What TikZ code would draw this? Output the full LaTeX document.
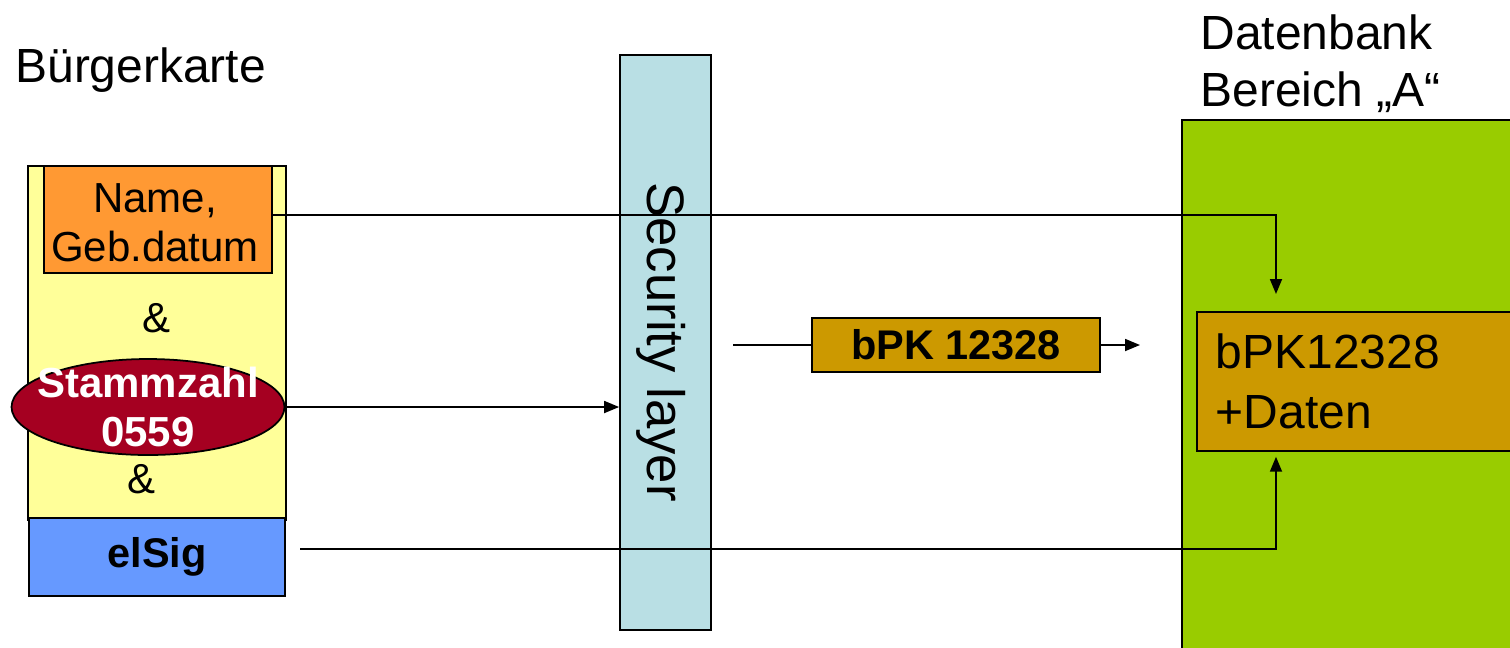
\documentclass[tikz,border=0pt]{standalone}
\usepackage{fontspec}
\setmainfont{Liberation Sans}
\usetikzlibrary{arrows.meta,positioning,shapes.geometric,calc}
\definecolor{cardyellow}{HTML}{FFFF99}
\definecolor{nameorange}{HTML}{FF9933}
\definecolor{sigblue}{HTML}{6699FF}
\definecolor{stammred}{HTML}{A50021}
\definecolor{layerblue}{HTML}{B9DFE4}
\definecolor{bpkgold}{HTML}{CC9900}
\definecolor{dbgreen}{HTML}{99CC00}
\tikzset{
  box/.style={draw=black, line width=1pt, fill=#1, inner sep=0pt, align=center},
  txt/.style={font=\fontsize{23.9}{27.8}\selectfont, inner sep=0pt, align=center},
  txtb/.style={font=\fontsize{23.6}{27.8}\selectfont\bfseries, inner sep=0pt,
               align=center},
  head/.style={font=\fontsize{27.3}{32.4}\selectfont, inner sep=0pt, align=left},
  flow/.style={-{Triangle[length=3mm,width=2.4mm]}, line width=1pt},
  wire/.style={line width=1pt},
}

\begin{document}
\begin{tikzpicture}[x=0.02cm, y=-0.02cm]
\useasboundingbox (0,0) rectangle (1510,647);
\clip (0,0) rectangle (1510,647);

% citizen card
\node[head, anchor=base west] (cardtitle) at (15,82) {Bürgerkarte};
\node[box=cardyellow, minimum width=5.16cm, minimum height=7.08cm] (card) at (157,343) {};
\node[box=nameorange, txt, minimum width=4.56cm, minimum height=2.14cm] (name)
  at (158,219.5) {};
\node[txt] (nametext) at (155,223) {Name,\\Geb.datum};
\node[txt] (amp1) at (157,318) {\&};
\node[box=stammred, ellipse, minimum width=5.46cm, minimum height=1.92cm] (stamm)
  at (148,407) {};
\node[txtb, font=\fontsize{23.9}{27.8}\selectfont\bfseries, text=white] (stammtext)
  at (stamm.center) {Stammzahl\\0559};
\node[txt] (amp2) at (142,479) {\&};
\node[box=sigblue, txtb, minimum width=5.12cm, minimum height=1.56cm] (sig)
  at (157,557) {elSig};

% security layer
\node[box=layerblue, minimum width=1.82cm, minimum height=11.5cm] (sec) at (665.5,342.5) {};
\node[font=\fontsize{30}{36}\selectfont, inner sep=0pt, rotate=-90] (seclabel)
  at (661,342) {Security layer};
\node[box=bpkgold, txtb, minimum width=5.76cm, minimum height=1.08cm] (bpk)
  at (956,345) {bPK 12328};

% database
\node[head, anchor=base west] (dbtitle) at (1200,106) {Datenbank\\Bereich „A“};
\node[box=dbgreen, anchor=north west, minimum width=8cm, minimum height=12cm] (db)
  at (1181,119) {};
\node[box=bpkgold, anchor=north west, minimum width=7cm, minimum height=2.78cm,
      font=\fontsize{27.3}{34}\selectfont, text width=6.24cm, align=left,
      inner xsep=0.38cm] (rec) at (1196,311) {bPK12328\\+Daten};

% connectors
\coordinate (secout) at (733,345);
\coordinate (dbin) at (1140,345);
\coordinate (sigout) at (300,549);
\draw[flow, shorten >=0.34cm] ([yshift=0.09cm]name.east) -| ([xshift=1.6cm]rec.north west);
\draw[flow] (stamm.east) -- (stamm.east -| sec.west);
\draw[wire] (secout) -- (bpk.west);
\draw[flow] (bpk.east) -- (dbin);
\draw[flow, shorten >=0.1cm] (sigout) -| ([xshift=1.6cm]rec.south west);
\end{tikzpicture}
\end{document}
